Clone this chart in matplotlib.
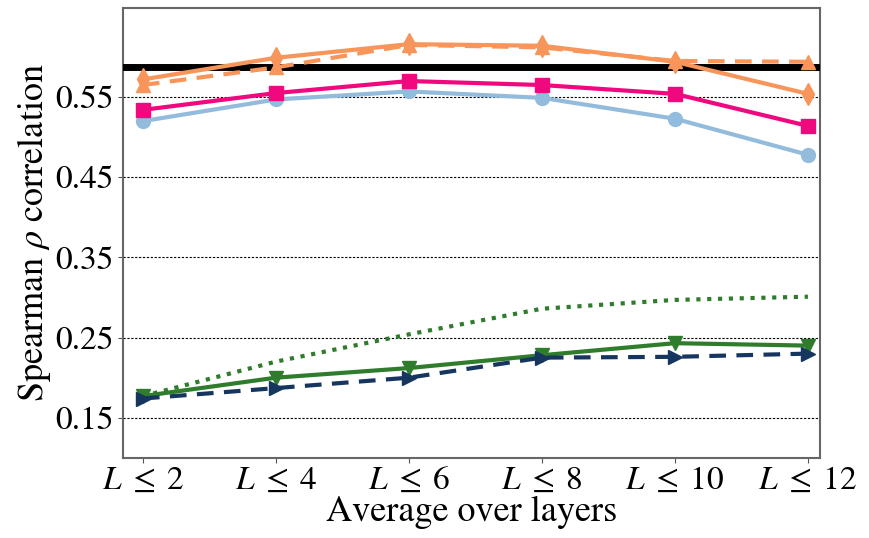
import numpy as np
import matplotlib
matplotlib.use("Agg")
import matplotlib.pyplot as plt

plt.rcParams["font.family"] = "STIXGeneral"
plt.rcParams["mathtext.fontset"] = "stix"

labels = [r"$L\;\leq\;2$", r"$L\;\leq\;4$", r"$L\;\leq\;6$", r"$L\;\leq\;8$", r"$L\;\leq\;10$", r"$L\;\leq\;12$"]
x = np.arange(len(labels))

orange_solid = [0.572, 0.599, 0.616, 0.614, 0.594, 0.554]
orange_dashed = [0.565, 0.587, 0.615, 0.612, 0.595, 0.594]
pink = [0.534, 0.555, 0.570, 0.565, 0.554, 0.514]
light_blue = [0.520, 0.547, 0.557, 0.549, 0.523, 0.478]
green_dotted = [0.177, 0.220, 0.254, 0.286, 0.297, 0.301]
green_solid = [0.177, 0.200, 0.212, 0.228, 0.243, 0.240]
navy_dashed = [0.174, 0.187, 0.200, 0.225, 0.226, 0.230]
baseline = 0.587

fig = plt.figure(figsize=(8.69, 5.38), dpi=100)
ax = fig.add_axes([0.1415, 0.149, 0.802, 0.836])

for yv in [0.15, 0.25, 0.35, 0.45, 0.55]:
    ax.axhline(yv, color="black", lw=0.8, ls=(0, (2, 1.5)), zorder=0)

ax.axhline(baseline, color="black", lw=5, zorder=3)

ax.plot(x, light_blue, color="#93bcdc", lw=3, marker="o", ms=10, zorder=4)
ax.plot(x, pink, color="#f0087f", lw=3, marker="s", ms=10, zorder=5)
ax.plot(x, orange_solid, color="#f7955a", lw=3, marker="d", ms=11, zorder=4)
ax.plot(x, orange_dashed, color="#f7955a", lw=3, ls=(0, (4, 2.5)), marker="^", ms=10, zorder=4)
ax.plot(x, green_dotted, color="#2f7d2c", lw=3, ls=(0, (1, 1.6)), zorder=4)
ax.plot(x, green_solid, color="#2f7d2c", lw=3, marker="v", ms=10, zorder=4)
ax.plot(x, navy_dashed, color="#163660", lw=3, ls=(0, (4, 2.5)), marker=">", ms=10, zorder=4)

ax.set_xlim(-0.15, 5.09)
ax.set_ylim(0.10, 0.661)
ax.set_xticks(x)
ax.set_xticklabels(labels)
ax.set_yticks([0.15, 0.25, 0.35, 0.45, 0.55])
ax.set_yticklabels(["0.15", "0.25", "0.35", "0.45", "0.55"])
ax.tick_params(labelsize=24, color="#555555", pad=3)
for s in ax.spines.values():
    s.set_color("#666666")
    s.set_linewidth(1.5)

ax.set_xlabel("Average over layers", fontsize=26, labelpad=0)
ax.set_ylabel(r"Spearman $\rho$ correlation", fontsize=26, labelpad=2)

fig.savefig("out.png", dpi=100)
